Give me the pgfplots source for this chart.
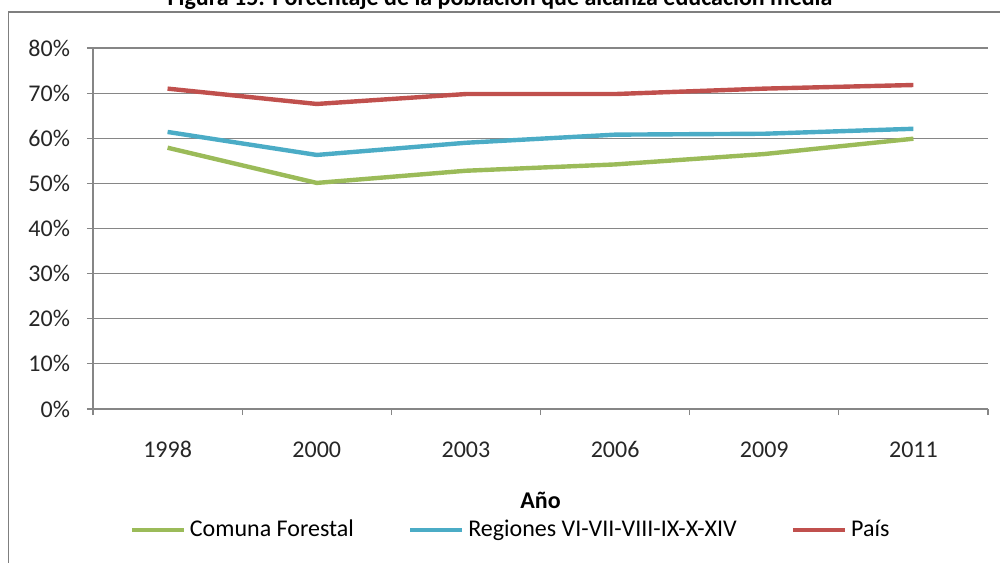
\documentclass[border=0pt]{standalone}
\usepackage{fontspec}
\setmainfont{Carlito}
\usepackage{pgfplots}
\pgfplotsset{compat=1.18}
\definecolor{cgreen}{HTML}{9BBB59}
\definecolor{cblue}{HTML}{4BACC6}
\definecolor{cred}{HTML}{C0504D}
\definecolor{cgrid}{HTML}{868686}
\definecolor{cframe}{HTML}{7F7F7F}

\begin{document}
\begin{tikzpicture}
\path[use as bounding box, clip] (0,0) rectangle (500pt,281pt);
\draw[cframe, line width=0.8pt] (4.25pt,-5pt) -- (4.25pt,275pt) -- (505pt,275pt);
\node[anchor=base, font=\fontsize{12}{14}\selectfont\bfseries] at (250pt,278.2pt)
  {Figura 15: Porcentaje de la población que alcanza educación media};
\begin{axis}[
  at={(46.5pt,76.5pt)}, anchor=south west,
  scale only axis, width=447.5pt, height=180.5pt,
  xmin=-0.5, xmax=5.5, ymin=0, ymax=80,
  axis x line=bottom, axis y line=left,
  axis line style={-, cgrid, line width=0.6pt},
  xtick={-0.5,0.5,...,5.5}, xticklabels={},
  extra x ticks={0,1,2,3,4,5},
  extra x tick labels={1998,2000,2003,2006,2009,2011},
  extra x tick style={major tick length=0pt,
    xticklabel style={anchor=base, yshift=-24pt}},
  ytick={0,10,...,80},
  yticklabels={0\%,10\%,20\%,30\%,40\%,50\%,60\%,70\%,80\%},
  yticklabel style={anchor=east, xshift=-5pt},
  tick align=outside, major tick length=3pt,
  tick style={cgrid, line width=0.6pt},
  ymajorgrids, grid style={cgrid, line width=0.6pt},
  tick label style={font=\fontsize{12}{14}\selectfont, text=black!85},
  xlabel={Año},
  xlabel style={at={(axis description cs:0.5,0)}, anchor=center, yshift=-45.5pt,
    font=\fontsize{12}{14}\selectfont\bfseries},
  legend columns=3,
  legend style={at={(axis description cs:0.5,0)}, anchor=center,
    xshift=-14.5pt, yshift=-60.5pt, draw=none, fill=none,
    font=\fontsize{12}{14}\selectfont, inner sep=0pt,
    /tikz/every even column/.append style={column sep=25pt}},
  legend cell align=left,
  legend image code/.code={\draw[#1] (0pt,0pt) -- (26pt,0pt);},
  every axis plot/.append style={line width=2.2pt, line join=round},
]
\addplot[cgreen] coordinates {(0,57.9) (1,50.1) (2,52.8) (3,54.2) (4,56.5) (5,59.9)};
\addlegendentry{Comuna Forestal}
\addplot[cblue] coordinates {(0,61.4) (1,56.3) (2,59.0) (3,60.8) (4,61.0) (5,62.1)};
\addlegendentry{Regiones VI-VII-VIII-IX-X-XIV}
\addplot[cred] coordinates {(0,71.0) (1,67.6) (2,69.8) (3,69.8) (4,71.0) (5,71.8)};
\addlegendentry{País}
\end{axis}
\end{tikzpicture}
\end{document}
